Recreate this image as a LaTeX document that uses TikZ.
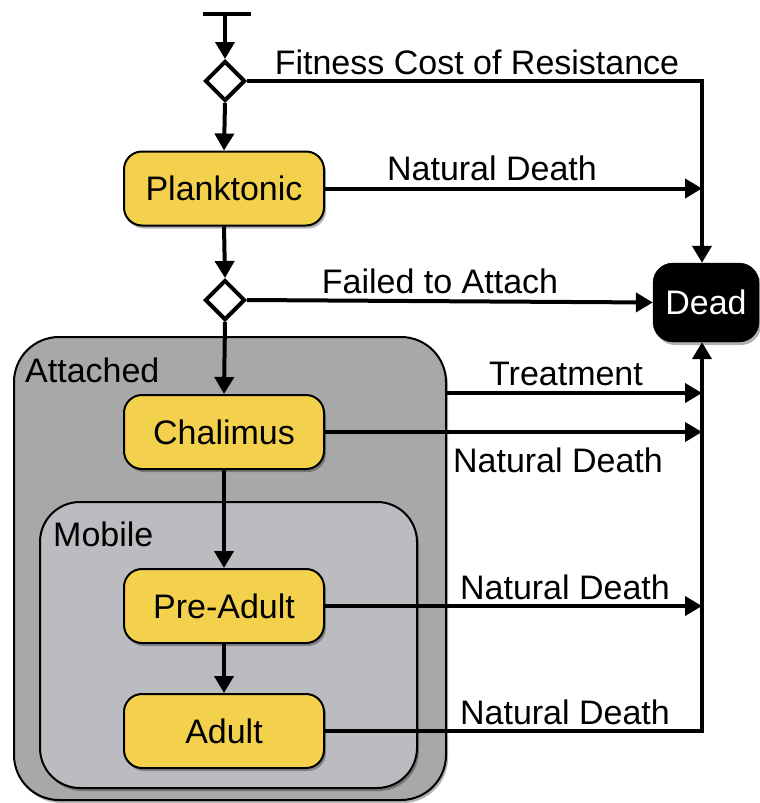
\documentclass[tikz,border=0pt]{standalone}
\usepackage{fontspec}
\setmainfont{Liberation Sans}
\usetikzlibrary{arrows.meta,shapes.geometric,shadows}
\definecolor{stageyellow}{HTML}{F3D14C}
\definecolor{attgray}{HTML}{A7A8A8}
\definecolor{mobgray}{HTML}{BBBCC0}
\begin{document}
\begin{tikzpicture}[x=1pt,y=-1pt,
  txt/.style={font=\fontsize{34}{40}\selectfont, inner sep=0pt},
  myshadow/.style={drop shadow={shadow xshift=2pt,shadow yshift=-3pt,fill=black,opacity=0.3}},
  stage/.style={draw=black, line width=2pt, rounded corners=18pt, fill=stageyellow,
    minimum width=200pt, minimum height=74pt, txt, myshadow},
  container/.style={draw=black, line width=2pt, myshadow},
  decision/.style={diamond, draw=black, line width=4pt, fill=white, minimum width=40pt,
    minimum height=40pt, inner sep=0pt},
  flow/.style={line width=4pt, -{Triangle[length=17pt,width=19pt]}},
  plain/.style={line width=4pt}
]
\useasboundingbox (0,0) rectangle (760,803);

% containers
\node[container, fill=attgray, rounded corners=45pt, minimum width=432pt, minimum height=463pt] (att) at (230,568.5) {};
\node[container, fill=mobgray, rounded corners=40pt, minimum width=377pt, minimum height=286pt] (mob) at (228.5,645) {};
\node[txt, anchor=west] (attlbl) at (25,370) {Attached};
\node[txt, anchor=west] (moblbl) at (53,534) {Mobile};

% nodes
\node[decision] (d1) at (225,81) {};
\node[decision] (d2) at (225,300) {};
\node[stage] (plank) at (224,188.5) {Planktonic};
\node[stage] (chal) at (224,432) {Chalimus};
\node[stage] (pre) at (224,606) {Pre-Adult};
\node[stage] (adult) at (224,731) {Adult};
\node[draw=black, fill=black, text=white, rounded corners=20pt, minimum width=106pt,
  minimum height=79pt, txt, myshadow] (dead) at (706,302.5) {Dead};

% coordinates
\coordinate (barL) at (203,14);
\coordinate (barR) at (251,14);
\coordinate (top) at (225,14);
\coordinate (rail) at (702,81);
\coordinate (treatL) at (446,393);

% connectors
\draw[plain] (barL) -- (barR);
\draw[flow] (top) -- (d1.north);
\draw[flow] (d1.east) -- (rail) -- (rail |- dead.north);
\draw[flow] (d1.south) -- (plank.north);
\draw[flow] (plank.east) -- (plank.east -| rail);
\draw[flow] (plank.south) -- (d2.north);
\draw[flow] (d2.east) -- (dead.west);
\draw[flow] (d2.south) -- (chal.north);
\draw[flow] (treatL) -- (treatL -| rail);
\draw[flow] (chal.east) -- (chal.east -| rail);
\draw[flow] (chal.south) -- (pre.north);
\draw[flow] (pre.east) -- (pre.east -| rail);
\draw[flow] (pre.south) -- (adult.north);
\draw[flow] (adult.east) -| (rail |- dead.south);

% labels
\node[txt] (l1) at (477,62) {Fitness Cost of Resistance};
\node[txt] (l2) at (492,168) {Natural Death};
\node[txt] (l3) at (440,281) {Failed to Attach};
\node[txt] (l4) at (566,374) {Treatment};
\node[txt] (l5) at (558,460) {Natural Death};
\node[txt] (l6) at (565,587) {Natural Death};
\node[txt] (l7) at (565,712) {Natural Death};
\end{tikzpicture}
\end{document}
